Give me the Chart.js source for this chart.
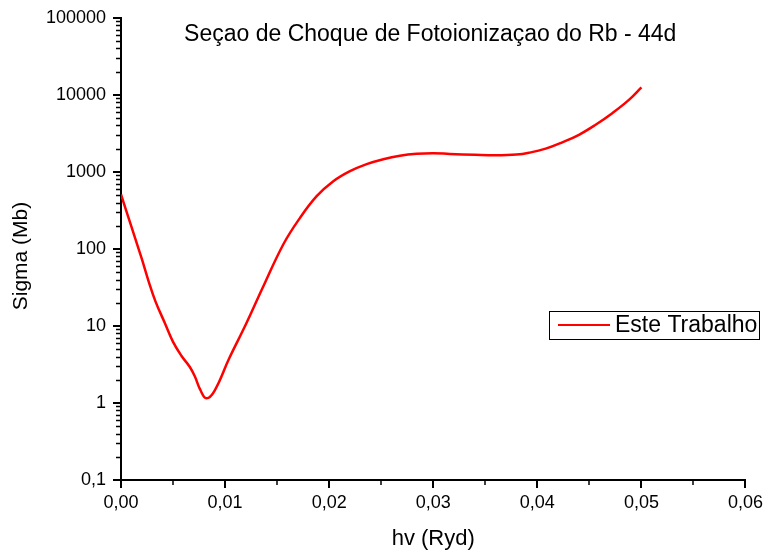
<!DOCTYPE html>
<html>
<head>
<meta charset="utf-8">
<title>Seçao de Choque de Fotoionizaçao do Rb - 44d</title>
<script src="https://cdn.jsdelivr.net/npm/chart.js@4.4.1/dist/chart.umd.min.js"></script>
<style>
  html, body { margin: 0; padding: 0; background: #fff; }
  #wrap { width: 767px; height: 557px; position: relative; }
</style>
</head>
<body>
<div id="wrap"><canvas id="grafico"></canvas></div>
<script>
// hv (Ryd) e sigma (Mb)
const energia = [0, 0.001, 0.002, 0.0026, 0.0033, 0.0042, 0.005, 0.0058, 0.0066, 0.0071,
    0.0076, 0.0082, 0.009, 0.0104, 0.012, 0.0136, 0.0156, 0.0172, 0.0188, 0.0204,
    0.022, 0.0236, 0.0252, 0.0268, 0.0284, 0.03, 0.0316, 0.034, 0.036, 0.038,
    0.0392, 0.0408, 0.0424, 0.044, 0.0456, 0.0472, 0.0488, 0.05];
const sigma = [510, 194, 74, 40, 21, 11, 6.2, 4.1, 2.95, 2.2,
    1.5, 1.15, 1.45, 3.8, 10.5, 31, 115, 253, 483, 755,
    1020, 1260, 1460, 1620, 1715, 1745, 1710, 1665, 1640, 1675,
    1770, 2000, 2420, 3030, 4090, 5780, 8600, 12500];

const xTicks = [0, 0.01, 0.02, 0.03, 0.04, 0.05, 0.06];
const xTickLabels = ['0,00', '0,01', '0,02', '0,03', '0,04', '0,05', '0,06'];
const yTicks = [0.1, 1, 10, 100, 1000, 10000, 100000];
const yTickLabels = ['0,1', '1', '10', '100', '1000', '10000', '100000'];

const FONTE = '"Liberation Sans", Arial, sans-serif';

// ticks menores, titulos e legenda desenhados à mão
const extras = {
    id: 'extras',
    afterDraw(chart) {
        const ctx = chart.ctx;
        const xs = chart.scales.x, ys = chart.scales.y;
        const area = chart.chartArea;
        ctx.save();
        ctx.strokeStyle = '#000';
        ctx.beginPath();
        for (let i = 0; i < xTicks.length - 1; i++) {
            const px = Math.round(xs.getPixelForValue((xTicks[i] + xTicks[i + 1]) / 2));
            ctx.moveTo(px, area.bottom);
            ctx.lineTo(px, area.bottom + 5);
        }
        for (let i = 0; i < yTicks.length - 1; i++) {
            for (let k = 2; k <= 9; k++) {
                const py = Math.round(ys.getPixelForValue(yTicks[i] * k)) + 0.5;
                ctx.moveTo(area.left - 5, py);
                ctx.lineTo(area.left, py);
            }
        }
        ctx.lineWidth = 1.5;
        ctx.stroke();

        // titulo
        ctx.fillStyle = '#000';
        ctx.font = '23px ' + FONTE;
        ctx.textAlign = 'center';
        ctx.textBaseline = 'middle';
        ctx.fillText('Seçao de Choque de Fotoionizaçao do Rb - 44d', (area.left + area.right) / 2 - 3, 35);

        // titulo do eixo y
        ctx.save();
        ctx.translate(21, 256);
        ctx.rotate(-Math.PI / 2);
        ctx.font = '21px ' + FONTE;
        ctx.fillText('Sigma (Mb)', 0, 0);
        ctx.restore();

        // legenda
        const ds = chart.data.datasets[0];
        ctx.lineWidth = 1;
        ctx.strokeStyle = '#000';
        ctx.strokeRect(549.5, 311.5, 210, 28);
        ctx.strokeStyle = ds.borderColor;
        ctx.lineWidth = 2;
        ctx.beginPath();
        ctx.moveTo(558, 325);
        ctx.lineTo(610, 325);
        ctx.stroke();
        ctx.fillStyle = '#000';
        ctx.textAlign = 'left';
        ctx.font = '23px ' + FONTE;
        ctx.fillText(ds.label, 615, 326);
        ctx.restore();
    }
};

new Chart(document.getElementById('grafico'), {
    type: 'line',
    data: {
        datasets: [{
            label: 'Este Trabalho',
            data: energia.map((e, i) => ({ x: e, y: sigma[i] })),
            borderColor: '#ff0000',
            borderWidth: 2.5,
            pointRadius: 0,
            tension: 0.4,
            fill: false
        }]
    },
    options: {
        responsive: true,
        maintainAspectRatio: false,
        animation: false,
        layout: { padding: { top: 16, right: 20, left: 0, bottom: 0 } },
        plugins: {
            legend: { display: false },
            tooltip: { enabled: false }
        },
        scales: {
            x: {
                type: 'linear',
                min: 0,
                max: 0.06,
                afterBuildTicks: (scale) => { scale.ticks = xTicks.map(v => ({ value: v })); },
                afterFit: (scale) => { scale.height = 77; },
                grid: { drawOnChartArea: false, color: '#000', lineWidth: 2, tickLength: 8 },
                border: { display: true, color: '#000', width: 2 },
                ticks: {
                    color: '#000',
                    padding: 4,
                    maxRotation: 0,
                    font: { family: FONTE, size: 18 },
                    callback: (v, i) => xTickLabels[i]
                },
                title: {
                    display: true,
                    text: 'hv (Ryd)',
                    color: '#000',
                    font: { family: FONTE, size: 22 },
                    padding: { top: 0, bottom: 5 }
                }
            },
            y: {
                type: 'logarithmic',
                min: 0.1,
                max: 100000,
                afterBuildTicks: (scale) => { scale.ticks = yTicks.map(v => ({ value: v })); },
                afterFit: (scale) => { scale.width = 121; },
                grid: { drawOnChartArea: false, color: '#000', lineWidth: 2, tickLength: 8 },
                border: { display: true, color: '#000', width: 2 },
                ticks: {
                    color: '#000',
                    padding: 7,
                    font: { family: FONTE, size: 18 },
                    callback: (v, i) => yTickLabels[i]
                }
            }
        }
    },
    plugins: [extras]
});
</script>
</body>
</html>
